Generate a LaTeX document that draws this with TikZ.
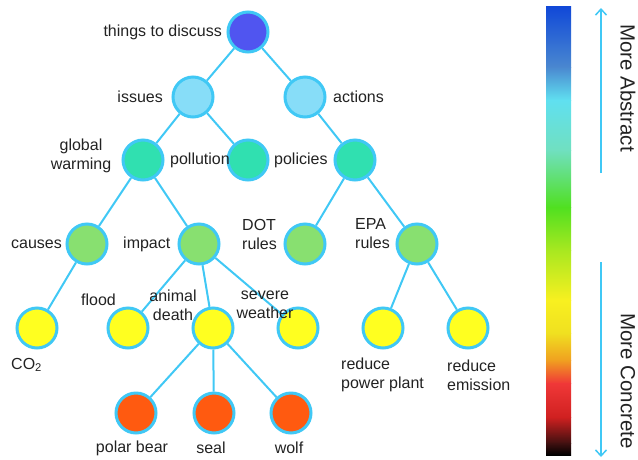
\documentclass[tikz,border=0pt]{standalone}
\usepackage{fontspec}
\setmainfont{Liberation Sans}
\usetikzlibrary{arrows.meta,backgrounds}
\definecolor{rim}{HTML}{40C8F5}
\definecolor{ink}{HTML}{222222}
\definecolor{cTop}{HTML}{5055F0}
\definecolor{cSky}{HTML}{87DDF8}
\definecolor{cTeal}{HTML}{30E0B0}
\definecolor{cGreen}{HTML}{88E070}
\definecolor{cYellow}{HTML}{FFFF20}
\definecolor{cOrange}{HTML}{FF5A10}
\tikzset{
  topic/.style={circle,draw=rim,line width=3pt,minimum size=40pt,inner sep=0pt},
  tag/.style={text=ink,inner sep=0pt,font=\fontsize{16}{19}\selectfont},
  link/.style={draw=rim,line width=2pt},
  side/.style={text=ink,inner sep=0pt,rotate=-90,font=\fontsize{20.5}{24}\selectfont},
  pointer/.style={draw=rim,line width=1.5pt,-{Straight Barb[length=6pt,width=11pt,line width=1.5pt]}}
}
\begin{document}
\begin{tikzpicture}[x=1pt,y=-1pt]
\useasboundingbox (0,0) rectangle (638,459);
% tree of topics
\node[topic,fill=cTop]    (root)   at (248,32)  {};
\node[topic,fill=cSky]    (issues) at (193,97)  {};
\node[topic,fill=cSky]    (acts)   at (305,97)  {};
\node[topic,fill=cTeal]   (gw)     at (143,160) {};
\node[topic,fill=cTeal]   (poll)   at (248,160) {};
\node[topic,fill=cTeal]   (pol)    at (355,160) {};
\node[topic,fill=cGreen]  (causes) at (87,244)  {};
\node[topic,fill=cGreen]  (impact) at (199,244) {};
\node[topic,fill=cGreen]  (dot)    at (305,244) {};
\node[topic,fill=cGreen]  (epa)    at (417,244) {};
\node[topic,fill=cYellow] (co)     at (37,328)  {};
\node[topic,fill=cYellow] (flood)  at (128,328) {};
\node[topic,fill=cYellow] (death)  at (213,328) {};
\node[topic,fill=cYellow] (storm)  at (298,328) {};
\node[topic,fill=cYellow] (plant)  at (383,328) {};
\node[topic,fill=cYellow] (emis)   at (468,328) {};
\node[topic,fill=cOrange] (bear)   at (136,413) {};
\node[topic,fill=cOrange] (seal)   at (214,413) {};
\node[topic,fill=cOrange] (wolf)   at (291,413) {};
% connectors behind the circles
\begin{scope}[on background layer]
\path[link] (root) -- (issues);
\path[link] (root) -- (acts);
\path[link] (issues) -- (gw);
\path[link] (issues) -- (poll);
\path[link] (acts) -- (pol);
\path[link] (gw) -- (causes);
\path[link] (gw) -- (impact);
\path[link] (pol) -- (dot);
\path[link] (pol) -- (epa);
\path[link] (causes) -- (co);
\path[link] (impact) -- (flood);
\path[link] (impact) -- (death);
\path[link] (impact) -- (storm);
\path[link] (epa) -- (plant);
\path[link] (epa) -- (emis);
\path[link] (death) -- (bear);
\path[link] (death) -- (seal);
\path[link] (death) -- (wolf);
\end{scope}
% labels
\node[tag,anchor=east] (tRoot) at (222,32) {things to discuss};
\node[tag,anchor=east] (tIssues) at (163,97) {issues};
\node[tag,anchor=west] (tActs) at (333,97) {actions};
\node[tag,align=center] (tGw) at (81,156) {global\\warming};
\node[tag,anchor=west] (tPoll) at (170,160) {pollution};
\node[tag,anchor=west] (tPol) at (274,160) {policies};
\node[tag,anchor=west] (tCauses) at (11,244) {causes};
\node[tag,anchor=west] (tImpact) at (123,244) {impact};
\node[tag,anchor=west,align=left] (tDot) at (242,234) {DOT\\rules};
\node[tag,anchor=west,align=left] (tEpa) at (355,234) {EPA\\rules};
\node[tag,anchor=west] (tFlood) at (81,300) {flood};
\node[tag,align=center] (tDeath) at (173,305) {animal\\death};
\node[tag,align=center] (tStorm) at (265,305) {severe\\weather};
\node[tag,anchor=west] (tCo) at (11,365) {CO\textsubscript{2}};
\node[tag,anchor=west,align=left] (tPlant) at (341,375) {reduce\\power plant};
\node[tag,anchor=west,align=left] (tEmis) at (447,375) {reduce\\emission};
\node[tag] (tBear) at (132,448) {polar bear};
\node[tag] (tSeal) at (211,448) {seal};
\node[tag] (tWolf) at (289,448) {wolf};
% colour scale
\shade[top color={rgb,255:red,16;green,72;blue,216},bottom color={rgb,255:red,74;green,136;blue,208}] (546,6) rectangle (571,67.5);
\shade[top color={rgb,255:red,74;green,136;blue,208},bottom color={rgb,255:red,96;green,224;blue,240}] (546,67) rectangle (571,100.5);
\shade[top color={rgb,255:red,96;green,224;blue,240},bottom color={rgb,255:red,112;green,224;blue,192}] (546,100) rectangle (571,150.5);
\shade[top color={rgb,255:red,112;green,224;blue,192},bottom color={rgb,255:red,80;green,224;blue,32}] (546,150) rectangle (571,207.5);
\shade[top color={rgb,255:red,80;green,224;blue,32},bottom color={rgb,255:red,168;green,232;blue,32}] (546,207) rectangle (571,250.5);
\shade[top color={rgb,255:red,168;green,232;blue,32},bottom color={rgb,255:red,248;green,240;blue,32}] (546,250) rectangle (571,300.5);
\shade[top color={rgb,255:red,248;green,240;blue,32},bottom color={rgb,255:red,240;green,224;blue,32}] (546,300) rectangle (571,333.5);
\shade[top color={rgb,255:red,240;green,224;blue,32},bottom color={rgb,255:red,240;green,160;blue,32}] (546,333) rectangle (571,360.5);
\shade[top color={rgb,255:red,240;green,160;blue,32},bottom color={rgb,255:red,240;green,56;blue,56}] (546,360) rectangle (571,383.5);
\shade[top color={rgb,255:red,240;green,56;blue,56},bottom color={rgb,255:red,208;green,32;blue,32}] (546,383) rectangle (571,417.5);
\shade[top color={rgb,255:red,208;green,32;blue,32},bottom color={rgb,255:red,64;green,16;blue,16}] (546,417) rectangle (571,443.5);
\shade[top color={rgb,255:red,64;green,16;blue,16},bottom color=black] (546,443) rectangle (571,455);
% direction arrows and captions
\coordinate (upTail) at (601,173);
\coordinate (upHead) at (601,8);
\coordinate (dnTail) at (601,262);
\coordinate (dnHead) at (601,457);
\draw[pointer] (upTail) -- (upHead);
\draw[pointer] (dnTail) -- (dnHead);
\node[side] (abs) at (628,88) {More Abstract};
\node[side] (con) at (628,381) {More Concrete};
\end{tikzpicture}
\end{document}
